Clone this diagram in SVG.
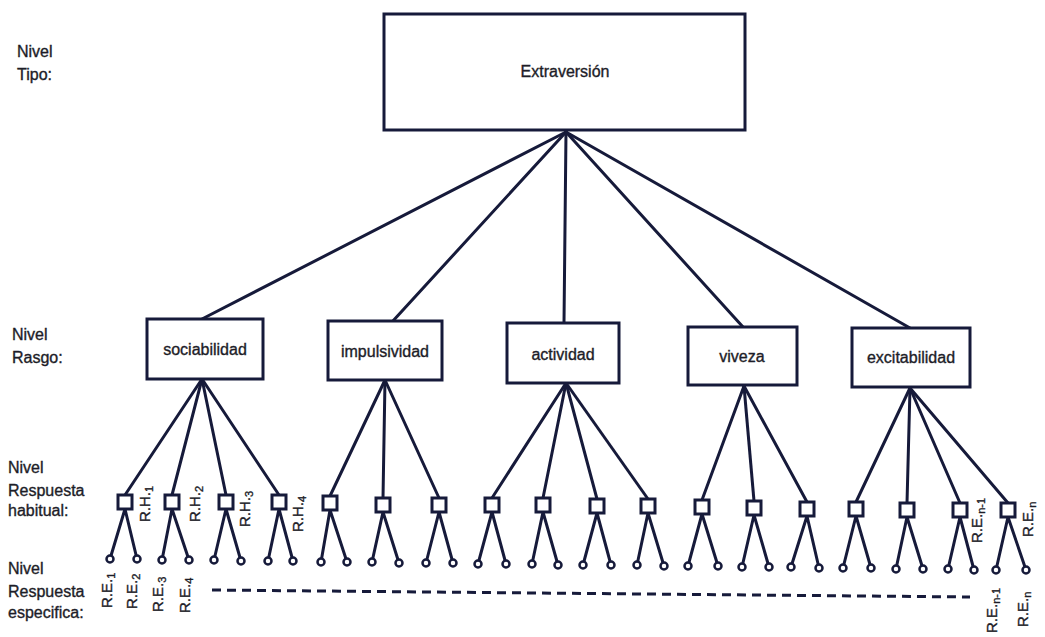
<svg xmlns="http://www.w3.org/2000/svg" width="1045" height="637" viewBox="0 0 1045 637">
<style>
  .box{fill:#fff;stroke:#161a3a;stroke-width:3}
  .sq{fill:#fff;stroke:#161a3a;stroke-width:3}
  .leaf{fill:#fff;stroke:#161a3a;stroke-width:2.5}
  .ln{stroke:#161a3a;stroke-width:3;fill:none;stroke-linecap:round}
  .dash{stroke:#161a3a;stroke-width:3;fill:none;stroke-dasharray:9 6}
  .t{font-family:"Liberation Sans",Arial,sans-serif;font-size:16px;fill:#1d1d28;stroke:#1d1d28;stroke-width:0.35}
  .c{text-anchor:middle}
  .r{font-family:"Liberation Sans",Arial,sans-serif;font-size:15px;fill:#1d1d28;stroke:#1d1d28;stroke-width:0.35}
  .s{font-size:11px}
</style>
<rect width="1045" height="637" fill="#fff"/>

<g id="level-labels">
  <text class="t" x="17" y="57">Nivel</text>
  <text class="t" x="17" y="80">Tipo:</text>
  <text class="t" x="12" y="340">Nivel</text>
  <text class="t" x="12" y="363">Rasgo:</text>
  <text class="t" x="8" y="473">Nivel</text>
  <text class="t" x="8" y="496">Respuesta</text>
  <text class="t" x="8" y="516">habitual:</text>
  <text class="t" x="8" y="574">Nivel</text>
  <text class="t" x="8" y="597">Respuesta</text>
  <text class="t" x="8" y="618">especifica:</text>
</g>

<g id="connectors">
  <line class="ln" x1="566" y1="132" x2="202" y2="319"/>
  <line class="ln" x1="566" y1="132" x2="392" y2="322"/>
  <line class="ln" x1="566" y1="132" x2="564" y2="323"/>
  <line class="ln" x1="566" y1="132" x2="743" y2="327"/>
  <line class="ln" x1="566" y1="132" x2="910" y2="328"/>

  <line class="ln" x1="202" y1="379" x2="125" y2="495"/>
  <line class="ln" x1="202" y1="379" x2="172" y2="495"/>
  <line class="ln" x1="202" y1="379" x2="226" y2="495"/>
  <line class="ln" x1="202" y1="379" x2="279" y2="495"/>
  <line class="ln" x1="385" y1="380" x2="330" y2="496"/>
  <line class="ln" x1="385" y1="380" x2="383" y2="498"/>
  <line class="ln" x1="385" y1="380" x2="439" y2="498"/>
  <line class="ln" x1="566" y1="383" x2="492" y2="498"/>
  <line class="ln" x1="566" y1="383" x2="543" y2="498"/>
  <line class="ln" x1="566" y1="383" x2="597" y2="499"/>
  <line class="ln" x1="566" y1="383" x2="648" y2="499"/>
  <line class="ln" x1="744" y1="386" x2="702" y2="500"/>
  <line class="ln" x1="744" y1="386" x2="754" y2="501"/>
  <line class="ln" x1="744" y1="386" x2="807" y2="502"/>
  <line class="ln" x1="910" y1="388" x2="856" y2="502"/>
  <line class="ln" x1="910" y1="388" x2="907" y2="503"/>
  <line class="ln" x1="910" y1="388" x2="960" y2="503"/>
  <line class="ln" x1="910" y1="388" x2="1008" y2="503"/>

  <path class="ln" d="M125 509L110 559M125 509L137 559"/>
  <path class="ln" d="M172 509L162 560M172 509L189 560"/>
  <path class="ln" d="M226 509L214 560M226 509L241 561"/>
  <path class="ln" d="M279 509L268 561M279 509L293 561"/>
  <path class="ln" d="M330 510L321 562M330 510L347 562"/>
  <path class="ln" d="M383 512L372 562M383 512L399 563"/>
  <path class="ln" d="M439 512L426 563M439 512L453 563"/>
  <path class="ln" d="M492 512L478 564M492 512L506 564"/>
  <path class="ln" d="M543 512L532 564M543 512L558 565"/>
  <path class="ln" d="M597 513L583 565M597 513L611 565"/>
  <path class="ln" d="M648 513L637 565M648 513L664 566"/>
  <path class="ln" d="M702 514L688 566M702 514L718 566"/>
  <path class="ln" d="M754 515L742 567M754 515L769 567"/>
  <path class="ln" d="M807 516L791 567M807 516L819 568"/>
  <path class="ln" d="M856 516L843 568M856 516L871 568"/>
  <path class="ln" d="M907 517L896 569M907 517L923 569"/>
  <path class="ln" d="M960 517L948 569M960 517L974 570"/>
  <path class="ln" d="M1008 517L996 570M1008 517L1026 570"/>

  <line class="dash" x1="212" y1="590" x2="970" y2="597"/>
</g>

<g id="tipo-extraversion">
  <rect class="box" x="384" y="14" width="361" height="116"/>
  <text class="t c" x="565" y="77">Extraversión</text>
</g>

<g id="rasgo-sociabilidad">
  <rect class="box" x="147" y="319" width="116" height="60"/>
  <text class="t c" x="205" y="355">sociabilidad</text>
</g>
<g id="rasgo-impulsividad">
  <rect class="box" x="328" y="321" width="114" height="59"/>
  <text class="t c" x="385" y="357">impulsividad</text>
</g>
<g id="rasgo-actividad">
  <rect class="box" x="507" y="323" width="112" height="60"/>
  <text class="t c" x="563" y="360">actividad</text>
</g>
<g id="rasgo-viveza">
  <rect class="box" x="688" y="327" width="109" height="58"/>
  <text class="t c" x="742" y="362">viveza</text>
</g>
<g id="rasgo-excitabilidad">
  <rect class="box" x="852" y="328" width="118" height="59"/>
  <text class="t c" x="911" y="363">excitabilidad</text>
</g>

<g id="habitual-nodes">
  <rect class="sq" x="118" y="495" width="14" height="14"/>
  <rect class="sq" x="165" y="495" width="14" height="14"/>
  <rect class="sq" x="219" y="495" width="14" height="14"/>
  <rect class="sq" x="272" y="495" width="14" height="14"/>
  <rect class="sq" x="323" y="496" width="14" height="14"/>
  <rect class="sq" x="376" y="498" width="14" height="14"/>
  <rect class="sq" x="432" y="498" width="14" height="14"/>
  <rect class="sq" x="485" y="498" width="14" height="14"/>
  <rect class="sq" x="536" y="498" width="14" height="14"/>
  <rect class="sq" x="590" y="499" width="14" height="14"/>
  <rect class="sq" x="641" y="499" width="14" height="14"/>
  <rect class="sq" x="695" y="500" width="14" height="14"/>
  <rect class="sq" x="747" y="501" width="14" height="14"/>
  <rect class="sq" x="800" y="502" width="14" height="14"/>
  <rect class="sq" x="849" y="502" width="14" height="14"/>
  <rect class="sq" x="900" y="503" width="14" height="14"/>
  <rect class="sq" x="953" y="503" width="14" height="14"/>
  <rect class="sq" x="1001" y="503" width="14" height="14"/>
</g>

<g id="especifica-nodes">
  <circle class="leaf" cx="110" cy="559" r="3.5"/><circle class="leaf" cx="137" cy="559" r="3.5"/>
  <circle class="leaf" cx="162" cy="560" r="3.5"/><circle class="leaf" cx="189" cy="560" r="3.5"/>
  <circle class="leaf" cx="214" cy="560" r="3.5"/><circle class="leaf" cx="241" cy="561" r="3.5"/>
  <circle class="leaf" cx="268" cy="561" r="3.5"/><circle class="leaf" cx="293" cy="561" r="3.5"/>
  <circle class="leaf" cx="321" cy="562" r="3.5"/><circle class="leaf" cx="347" cy="562" r="3.5"/>
  <circle class="leaf" cx="372" cy="562" r="3.5"/><circle class="leaf" cx="399" cy="563" r="3.5"/>
  <circle class="leaf" cx="426" cy="563" r="3.5"/><circle class="leaf" cx="453" cy="563" r="3.5"/>
  <circle class="leaf" cx="478" cy="564" r="3.5"/><circle class="leaf" cx="506" cy="564" r="3.5"/>
  <circle class="leaf" cx="532" cy="564" r="3.5"/><circle class="leaf" cx="558" cy="565" r="3.5"/>
  <circle class="leaf" cx="583" cy="565" r="3.5"/><circle class="leaf" cx="611" cy="565" r="3.5"/>
  <circle class="leaf" cx="637" cy="565" r="3.5"/><circle class="leaf" cx="664" cy="566" r="3.5"/>
  <circle class="leaf" cx="688" cy="566" r="3.5"/><circle class="leaf" cx="718" cy="566" r="3.5"/>
  <circle class="leaf" cx="742" cy="567" r="3.5"/><circle class="leaf" cx="769" cy="567" r="3.5"/>
  <circle class="leaf" cx="791" cy="567" r="3.5"/><circle class="leaf" cx="819" cy="568" r="3.5"/>
  <circle class="leaf" cx="843" cy="568" r="3.5"/><circle class="leaf" cx="871" cy="568" r="3.5"/>
  <circle class="leaf" cx="896" cy="569" r="3.5"/><circle class="leaf" cx="923" cy="569" r="3.5"/>
  <circle class="leaf" cx="948" cy="569" r="3.5"/><circle class="leaf" cx="974" cy="570" r="3.5"/>
  <circle class="leaf" cx="996" cy="570" r="3.5"/><circle class="leaf" cx="1026" cy="570" r="3.5"/>
</g>

<g id="node-labels">
  <text class="r" transform="translate(150,522) rotate(-90)">R.H.<tspan class="s" dy="3">1</tspan></text>
  <text class="r" transform="translate(200,522) rotate(-90)">R.H.<tspan class="s" dy="3">2</tspan></text>
  <text class="r" transform="translate(250,527) rotate(-90)">R.H.<tspan class="s" dy="3">3</tspan></text>
  <text class="r" transform="translate(303,532) rotate(-90)">R.H.<tspan class="s" dy="3">4</tspan></text>
  <text class="r" transform="translate(112,608) rotate(-90)">R.E.<tspan class="s" dy="3">1</tspan></text>
  <text class="r" transform="translate(137,609) rotate(-90)">R.E.<tspan class="s" dy="3">2</tspan></text>
  <text class="r" transform="translate(163,612) rotate(-90)">R.E.<tspan class="s" dy="3">3</tspan></text>
  <text class="r" transform="translate(190,613) rotate(-90)">R.E.<tspan class="s" dy="3">4</tspan></text>
  <text class="r" transform="translate(982,543) rotate(-90)">R.E.<tspan class="s" dy="3">n-1</tspan></text>
  <text class="r" transform="translate(1033,537) rotate(-90)">R.E.<tspan class="s" dy="3">n</tspan></text>
  <text class="r" transform="translate(997,633) rotate(-90)">R.E.<tspan class="s" dy="3">n-1</tspan></text>
  <text class="r" transform="translate(1028,627) rotate(-90)">R.E.<tspan class="s" dy="3">n</tspan></text>
</g>
</svg>
